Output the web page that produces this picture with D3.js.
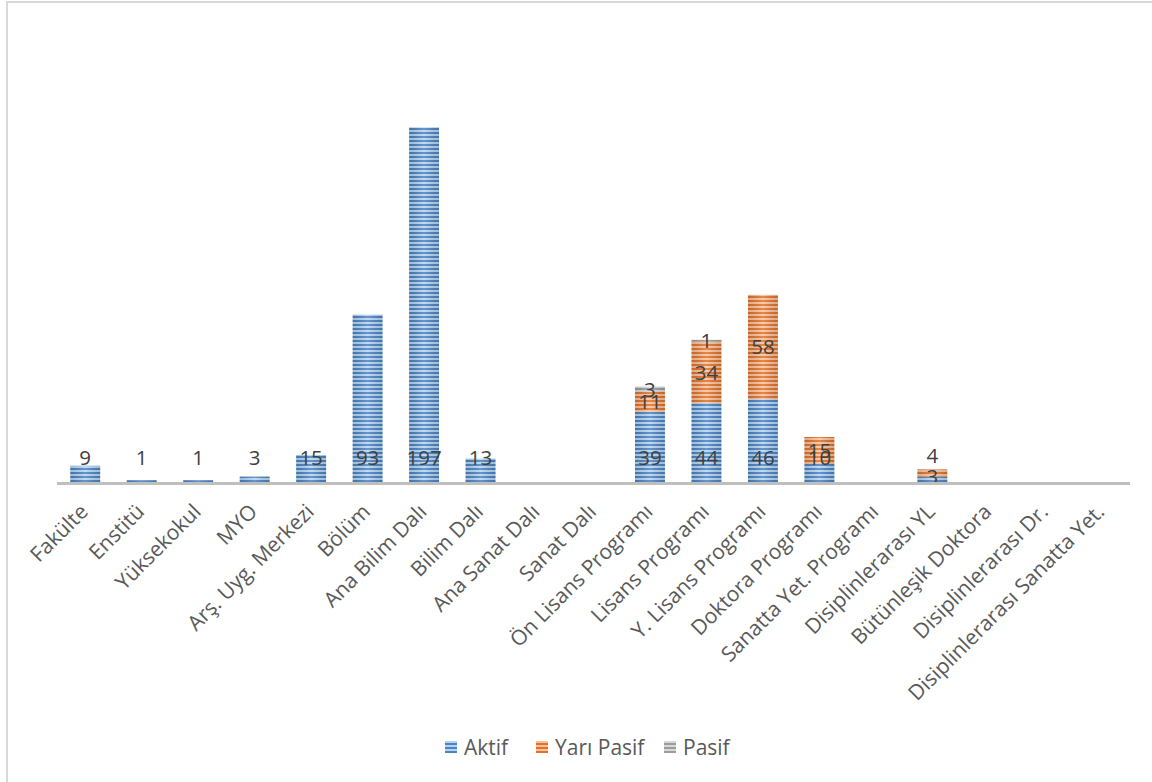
<!DOCTYPE html>
<html>
<head>
<meta charset="utf-8">
<script src="https://cdn.jsdelivr.net/npm/d3@7"></script>
<style>
  body { margin: 0; background: #fff; }
  svg { display: block; font-family: "Open Sans", sans-serif; }
</style>
</head>
<body>
<div class="chart"></div>
<script>
const categories = [
  "Fakülte", "Enstitü", "Yüksekokul", "MYO", "Arş. Uyg. Merkezi", "Bölüm",
  "Ana Bilim Dalı", "Bilim Dalı", "Ana Sanat Dalı", "Sanat Dalı",
  "Ön Lisans Programı", "Lisans Programı", "Y. Lisans Programı",
  "Doktora Programı", "Sanatta Yet. Programı", "Disiplinlerarası YL",
  "Bütünleşik Doktora", "Disiplinlerarası Dr.", "Disiplinlerarası Sanatta Yet."
];
const aktif     = [9, 1, 1, 3, 15, 93, 197, 13, 0, 0, 39, 44, 46, 10, 0, 3, 0, 0, 0];
const yariPasif = [0, 0, 0, 0, 0, 0, 0, 0, 0, 0, 11, 34, 58, 15, 0, 4, 0, 0, 0];
const pasif     = [0, 0, 0, 0, 0, 0, 0, 0, 0, 0, 3, 1, 0, 0, 0, 0, 0, 0, 0];
const seriesNames = ["Aktif", "Yarı Pasif", "Pasif"];
const yDomain = [0, 250];

const width = 1152, height = 782;
const x0 = 57, x1 = 1130, baseY = 482, topY = 32;

const colors = {
  "Aktif":      { dark: "#4A84C4", light: "#B6D4F2", id: "pA" },
  "Yarı Pasif": { dark: "#E2722A", light: "#F8C29C", id: "pY" },
  "Pasif":      { dark: "#9C9C9C", light: "#D8D8D8", id: "pP" }
};

const rows = categories.map((c, i) => ({
  cat: c, "Aktif": aktif[i], "Yarı Pasif": yariPasif[i], "Pasif": pasif[i]
}));

const svg = d3.select(".chart").append("svg")
  .attr("width", width).attr("height", height);

// striped fills
const defs = svg.append("defs");
seriesNames.forEach(s => {
  const c = colors[s];
  const p = defs.append("pattern")
    .attr("id", c.id).attr("patternUnits", "userSpaceOnUse")
    .attr("width", 8).attr("height", 4);
  p.append("rect").attr("width", 8).attr("height", 4).attr("fill", c.dark);
  p.append("rect").attr("y", 2).attr("width", 8).attr("height", 2).attr("fill", c.light);
});
const gloss = defs.append("linearGradient").attr("id", "gloss")
  .attr("x1", 0).attr("x2", 1).attr("y1", 0).attr("y2", 0);
gloss.append("stop").attr("offset", 0).attr("stop-color", "#000").attr("stop-opacity", 0.12);
gloss.append("stop").attr("offset", 0.5).attr("stop-color", "#fff").attr("stop-opacity", 0.15);
gloss.append("stop").attr("offset", 1).attr("stop-color", "#000").attr("stop-opacity", 0.12);

// chart border
svg.append("rect")
  .attr("x", 7).attr("y", 2).attr("width", width + 10).attr("height", height + 10)
  .attr("fill", "none").attr("stroke", "#D9D9D9").attr("stroke-width", 2);

const xScale = d3.scaleBand()
  .domain(categories)
  .range([x0, x1])
  .paddingInner(0.47)
  .paddingOuter(0.235);

const yScale = d3.scaleLinear().domain(yDomain).range([baseY, topY]);

const stacked = d3.stack().keys(seriesNames)(rows);

const g = svg.append("g");

stacked.forEach(layer => {
  const c = colors[layer.key];
  const segs = g.append("g");
  const nonZero = layer.filter(d => d[1] - d[0] > 0);
  segs.selectAll("rect.bar")
    .data(nonZero)
    .enter().append("rect")
    .attr("class", "bar")
    .attr("x", d => xScale(d.data.cat))
    .attr("y", d => yScale(d[1]))
    .attr("width", xScale.bandwidth())
    .attr("height", d => yScale(d[0]) - yScale(d[1]))
    .attr("fill", `url(#${c.id})`);
  segs.selectAll("rect.gloss")
    .data(nonZero)
    .enter().append("rect")
    .attr("class", "gloss")
    .attr("x", d => xScale(d.data.cat))
    .attr("y", d => yScale(d[1]))
    .attr("width", xScale.bandwidth())
    .attr("height", d => yScale(d[0]) - yScale(d[1]))
    .attr("fill", "url(#gloss)");
});

// baseline
svg.append("line")
  .attr("x1", x0).attr("x2", x1)
  .attr("y1", baseY + 1.5).attr("y2", baseY + 1.5)
  .attr("stroke", "#BFBFBF").attr("stroke-width", 3);

// data labels
function labelY(layer, d) {
  const total = d.data["Aktif"] + d.data["Yarı Pasif"] + d.data["Pasif"];
  const crowded = d.data["Yarı Pasif"] > 0 && yScale(0) - yScale(total) < 20;
  if (layer.key === "Aktif") {
    return crowded ? (yScale(d[0]) + yScale(d[1])) / 2 - 3 : yScale(0) - 24;
  }
  return crowded ? yScale(d[1]) - 14 : (yScale(d[0]) + yScale(d[1])) / 2;
}
stacked.forEach(layer => {
  g.selectAll(null)
    .data(layer.filter(d => d[1] - d[0] > 0))
    .enter().append("text")
    .attr("x", d => xScale(d.data.cat) + xScale.bandwidth() / 2)
    .attr("y", d => labelY(layer, d))
    .attr("dy", "0.36em")
    .attr("text-anchor", "middle")
    .style("font-size", "20.5px")
    .style("fill", "#404040")
    .text(d => d[1] - d[0]);
});

// category labels
svg.append("g").selectAll("text")
  .data(categories)
  .enter().append("text")
  .attr("transform", d => `translate(${xScale(d) + xScale.bandwidth() / 2 + 4}, ${baseY + 31}) rotate(-45)`)
  .attr("text-anchor", "end")
  .style("font-size", "21px")
  .style("fill", "#595959")
  .text(d => d);

// legend
const legend = svg.append("g").attr("transform", "translate(0, 747)");
const legendX = [445, 536, 664];
seriesNames.forEach((s, i) => {
  const item = legend.append("g").attr("transform", `translate(${legendX[i]}, 0)`);
  item.append("rect").attr("x", 0).attr("y", -6).attr("width", 12).attr("height", 12)
    .attr("fill", `url(#${colors[s].id})`);
  item.append("text").attr("x", 19).attr("y", 0).attr("dy", "0.36em")
    .style("font-size", "21px").style("fill", "#595959").text(s);
});
</script>
</body>
</html>
